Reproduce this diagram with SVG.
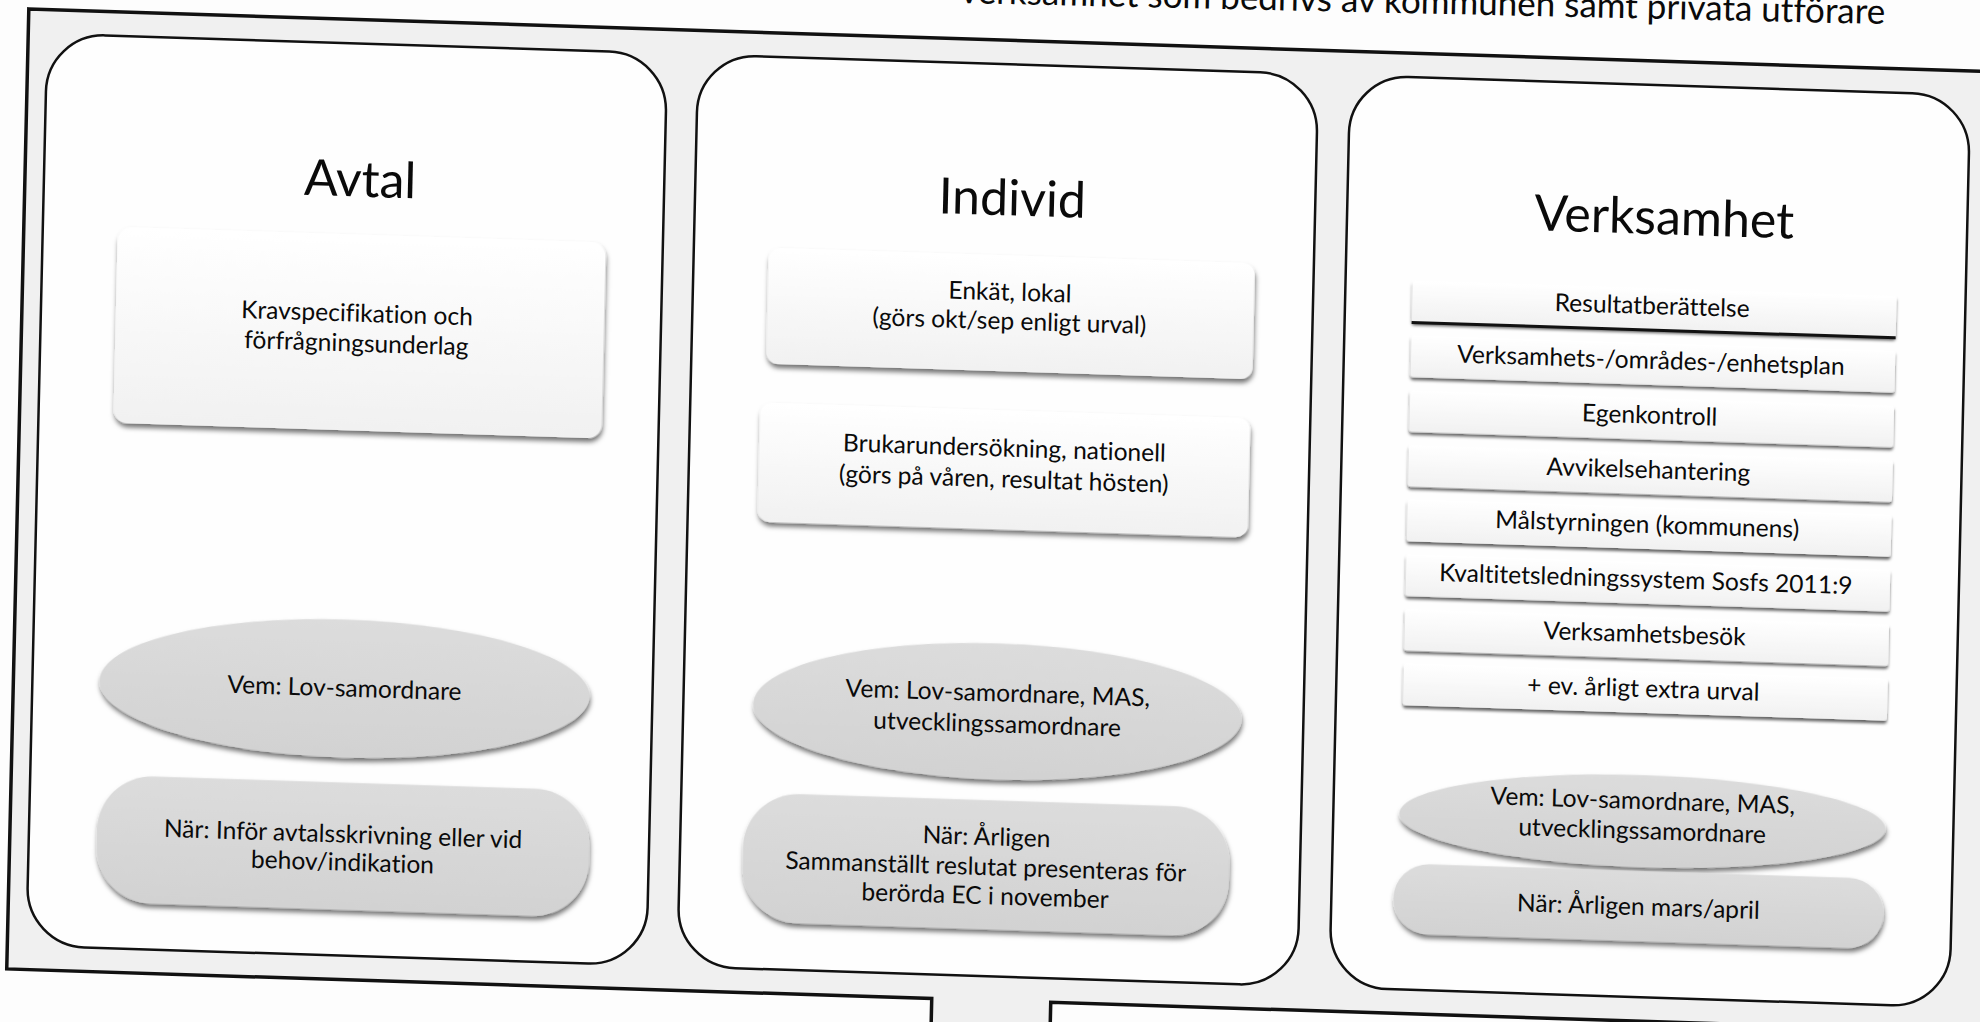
<svg xmlns="http://www.w3.org/2000/svg" width="1980" height="1022" viewBox="0 0 1980 1022">
<defs>
<style>
text{font-family:Lato,"Open Sans","DejaVu Sans",sans-serif;fill:#0a0a0a;text-anchor:middle;font-variant-ligatures:none;font-feature-settings:"liga" 0,"dlig" 0}
.t{font-size:50px}
.b{font-size:24.6px}
.col{fill:#fefefe;stroke:#111;stroke-width:2.5}
.wb{fill:url(#gw);filter:url(#sh)}
.gb{fill:url(#gg);filter:url(#sh)}
.lb{fill:url(#gw);filter:url(#sh2)}
</style>
<linearGradient id="gw" x1="0" y1="0" x2="0" y2="1"><stop offset="0" stop-color="#ffffff"/><stop offset="1" stop-color="#f1f1f1"/></linearGradient>
<linearGradient id="gg" x1="0" y1="0" x2="0" y2="1"><stop offset="0" stop-color="#dcdcdc"/><stop offset="1" stop-color="#d2d2d2"/></linearGradient>
<filter id="sh" x="-5%" y="-10%" width="110%" height="130%"><feDropShadow dx="1" dy="4" stdDeviation="2.5" flood-color="#000" flood-opacity="0.55"/></filter>
<filter id="sh2" x="-5%" y="-20%" width="110%" height="160%"><feDropShadow dx="0" dy="3" stdDeviation="1.8" flood-color="#000" flood-opacity="0.6"/></filter>
</defs>
<rect x="0" y="0" width="1980" height="1022" fill="#fdfdfd"/>
<text transform="rotate(1.3 1885 24)" x="1885" y="24" style="font-size:35px;text-anchor:end">verksamhet som bedrivs av kommunen samt privata utförare</text>
<g transform="matrix(1 0.032 -0.023 1 0 0)">
<g id="frame">
<path d="M29 8 H2200 V968 H1073 V1150 H954 V968 H29 Z" fill="#f0f0f0" stroke="#111" stroke-width="3.5"/>
</g>
<g id="avtal">
<rect class="col" x="48" y="32" width="620" height="912" rx="58"/>
<text class="t" x="364" y="185">Avtal</text>
<g id="avtal-krav">
<rect class="wb" x="123" y="223" width="488" height="196" rx="14"/>
<text class="b" x="364" y="310">Kravspecifikation och</text>
<text class="b" x="364" y="340">förfrågningsunderlag</text>
</g>
<g id="avtal-vem">
<ellipse class="gb" cx="360" cy="677" rx="245" ry="69"/>
<text class="b" x="360" y="685">Vem: Lov-samordnare</text>
</g>
<g id="avtal-nar">
<rect class="gb" x="116" y="771" width="492" height="127" rx="55"/>
<text class="b" x="362" y="831">När: Inför avtalsskrivning eller vid</text>
<text class="b" x="362" y="859">behov/indikation</text>
</g>
</g>
<g id="individ">
<rect class="col" x="699" y="32" width="620" height="912" rx="58"/>
<text class="t" x="1016" y="183">Individ</text>
<g id="individ-enkat">
<rect class="wb" x="774" y="223" width="486" height="116" rx="12"/>
<text class="b" x="1016" y="268">Enkät, lokal</text>
<text class="b" x="1016" y="297">(görs okt/sep enligt urval)</text>
</g>
<g id="individ-bruk">
<rect class="wb" x="769" y="378" width="490" height="119" rx="12"/>
<text class="b" x="1014" y="424">Brukarundersökning, nationell</text>
<text class="b" x="1014" y="455">(görs på våren, resultat hösten)</text>
</g>
<g id="individ-vem">
<ellipse class="gb" cx="1013" cy="679" rx="244" ry="68"/>
<text class="b" x="1013" y="669">Vem: Lov-samordnare, MAS,</text>
<text class="b" x="1013" y="700">utvecklingssamordnare</text>
</g>
<g id="individ-nar">
<rect class="gb" x="762" y="768" width="486" height="129" rx="55"/>
<text class="b" x="1005" y="813">När: Årligen</text>
<text class="b" x="1005" y="843">Sammanställt reslutat presenteras för</text>
<text class="b" x="1005" y="872">berörda EC i november</text>
</g>
</g>
<g id="verksamhet">
<rect class="col" x="1351" y="32" width="620" height="912" rx="58"/>
<text class="t" x="1668" y="181">Verksamhet</text>
<g id="v1"><rect class="lb" x="1418" y="235" width="484" height="42" rx="3"/><line x1="1418" y1="277" x2="1902" y2="277" stroke="#111" stroke-width="3"/><text class="b" x="1658" y="261">Resultatberättelse</text></g>
<g id="v2"><rect class="lb" x="1418" y="289.7" width="484" height="42" rx="3"/><text class="b" x="1658" y="315.7">Verksamhets-/områdes-/enhetsplan</text></g>
<g id="v3"><rect class="lb" x="1418" y="344.4" width="484" height="42" rx="3"/><text class="b" x="1658" y="370.4">Egenkontroll</text></g>
<g id="v4"><rect class="lb" x="1418" y="399.1" width="484" height="42" rx="3"/><text class="b" x="1658" y="425.1">Avvikelsehantering</text></g>
<g id="v5"><rect class="lb" x="1418" y="453.8" width="484" height="42" rx="3"/><text class="b" x="1658" y="479.8">Målstyrningen (kommunens)</text></g>
<g id="v6"><rect class="lb" x="1418" y="508.5" width="484" height="42" rx="3"/><text class="b" x="1658" y="534.5">Kvaltitetsledningssystem Sosfs 2011:9</text></g>
<g id="v7"><rect class="lb" x="1418" y="563.2" width="484" height="42" rx="3"/><text class="b" x="1658" y="589.2">Verksamhetsbesök</text></g>
<g id="v8"><rect class="lb" x="1418" y="617.9" width="484" height="42" rx="3"/><text class="b" x="1658" y="643.9">+ ev. årligt extra urval</text></g>
<g id="verksamhet-vem">
<ellipse class="gb" cx="1660" cy="768" rx="243" ry="46"/>
<text class="b" x="1660" y="756">Vem: Lov-samordnare, MAS,</text>
<text class="b" x="1660" y="786">utvecklingssamordnare</text>
</g>
<g id="verksamhet-nar">
<rect class="gb" x="1413" y="818" width="490" height="70" rx="35"/>
<text class="b" x="1658" y="862">När: Årligen mars/april</text>
</g>
</g>
<g id="connectors"></g>
</g>
</svg>
